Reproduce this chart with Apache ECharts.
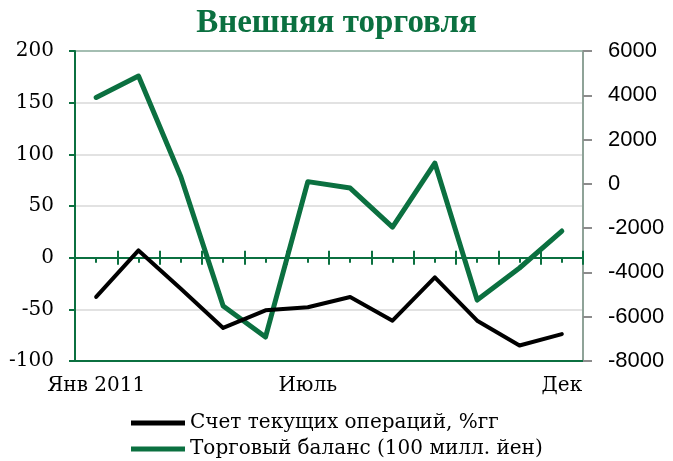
<!DOCTYPE html>
<html>
<head>
<meta charset="UTF-8">
<title></title>
<script type="text/javascript" src="https://cdn.jsdelivr.net/npm/echarts@6/dist/echarts.min.js"></script>
</head>
<body style="margin:0;">
<div id="chartArea" style="width:673px;height:461px;"></div>
<script type="text/javascript">
// месяцы 2011
var months = ['Янв', 'Фев', 'Мар', 'Апр', 'Май', 'Июн', 'Июл', 'Авг', 'Сен', 'Окт', 'Ноя', 'Дек'];
// подписи оси X (как на картинке)
var xTickLabels = ['Янв 2011', '', '', '', '', 'Июль', '', '', '', '', '', 'Дек'];
// Счет текущих операций, %гг (левая ось)
var currentAccount = [-38, 7, -30, -68, -51, -48, -38, -61, -19, -61, -85, -74];
// Торговый баланс, 100 млн йен (правая ось)
var tradeBalance = [3900, 4870, 320, -5520, -6920, 100, -190, -1950, 940, -5250, -3800, -2130];

var green = '#0b7040';
var myChart = echarts.init(document.getElementById('chartArea'));

function zeroAxis(extra) {
	var ax = {
		type: 'category',
		data: months,
		position: 'bottom',
		boundaryGap: true,
		axisLine: { show: false, onZero: true, onZeroAxisIndex: 0 },
		axisLabel: { show: false },
		splitLine: { show: false }
	};
	for (var k in extra) ax[k] = extra[k];
	return ax;
}

var option = {
	animation: false,
	title: {
		text: 'Внешняя торговля',
		left: 'center',
		top: 2,
		textStyle: { fontFamily: 'Liberation Serif', fontWeight: 'bold', fontSize: 33, color: green }
	},
	grid: { left: 75, right: 90, top: 51, bottom: 100, show: true, borderColor: green, borderWidth: 2 },
	legend: {
		orient: 'vertical',
		left: 131,
		top: 413,
		padding: 0,
		height: 48,
		icon: 'rect',
		itemWidth: 54,
		itemHeight: 5,
		itemGap: 6,
		textStyle: { fontFamily: 'DejaVu Serif', fontSize: 20, color: '#000', lineHeight: 20 },
		data: ['Счет текущих операций, %гг', 'Торговый баланс (100 милл. йен)']
	},
	xAxis: [{
		type: 'category',
		data: months,
		position: 'bottom',
		boundaryGap: true,
		axisLine: { onZero: false, lineStyle: { color: green, width: 2 } },
		axisTick: { show: false },
		axisLabel: {
			interval: 0,
			margin: 15,
			fontFamily: 'DejaVu Serif',
			fontSize: 20,
			color: '#000',
			formatter: function(v, i) { return xTickLabels[i]; }
		}
	},
	zeroAxis({ axisLine: { show: true, onZero: true, onZeroAxisIndex: 0, lineStyle: { color: green, width: 2 } },
		axisTick: { show: true, length: 7, lineStyle: { color: green, width: 2 } } }),
	zeroAxis({ axisTick: { show: true, inside: true, length: 7, lineStyle: { color: green, width: 2 } } }),
	zeroAxis({ axisTick: { show: true, alignWithLabel: true, interval: 0, length: 5, lineStyle: { color: green, width: 2 } } })
	],
	yAxis: [{
		type: 'value',
		min: -100,
		max: 200,
		interval: 50,
		axisLine: { show: true, lineStyle: { color: green, width: 2 } },
		axisTick: { show: true, length: 6, lineStyle: { color: green, width: 2 } },
		axisLabel: { margin: 21, fontFamily: 'DejaVu Serif', fontSize: 20, color: '#000' },
		splitLine: { show: true, lineStyle: { color: '#d9d9d9', width: 1.5 } }
	}, {
		type: 'value',
		min: -8000,
		max: 6000,
		interval: 2000,
		position: 'right',
		axisLine: { show: true, lineStyle: { color: '#8fa398', width: 2 } },
		axisTick: { show: true, length: 9, lineStyle: { color: '#8c8c8c', width: 2 } },
		axisLabel: {
			margin: 25, fontFamily: 'Liberation Sans', fontSize: 22, color: '#000',
			formatter: function(v) { return String(v); }
		},
		splitLine: { show: false }
	}],
	series: [{
		name: 'Счет текущих операций, %гг',
		type: 'line',
		xAxisIndex: 0,
		yAxisIndex: 0,
		symbol: 'none',
		color: '#000',
		lineStyle: { color: '#000', width: 4, cap: 'round', join: 'round' },
		data: currentAccount,
		z: 3
	}, {
		name: 'Торговый баланс (100 милл. йен)',
		type: 'line',
		xAxisIndex: 0,
		yAxisIndex: 1,
		symbol: 'none',
		color: green,
		lineStyle: { color: green, width: 5, cap: 'round', join: 'round' },
		data: tradeBalance,
		z: 2
	}]
};
myChart.setOption(option);
</script>
</body>
</html>
